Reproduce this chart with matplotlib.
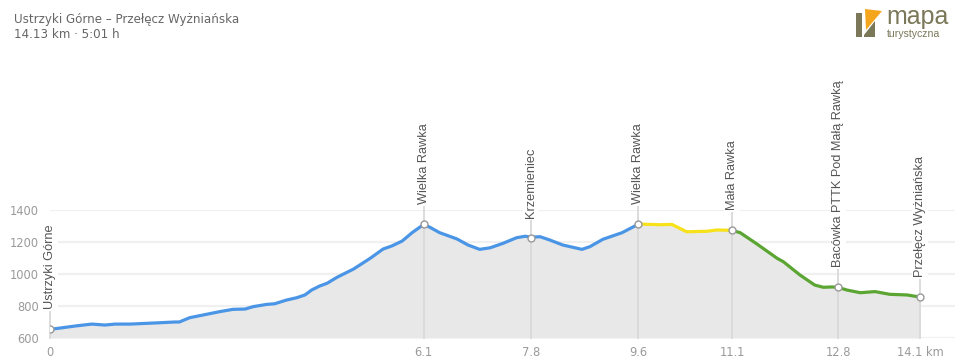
#!/usr/bin/env python3
"""Elevation profile: Ustrzyki Górne - Przełęcz Wyżniańska."""

import matplotlib
matplotlib.use("Agg")
import matplotlib.pyplot as plt
from matplotlib.patches import Polygon
import numpy as np

# profile (km, m a.s.l.)
dist_km = [0.00, 0.16, 0.41, 0.68, 0.89, 1.06, 1.30, 1.71, 2.03, 2.10, 2.27, 2.49,
           2.76, 2.97, 3.17, 3.30, 3.52, 3.65, 3.84, 4.01, 4.14, 4.25, 4.38, 4.50,
           4.66, 4.93, 5.20, 5.41, 5.55, 5.72, 5.88, 6.07, 6.17, 6.33, 6.61, 6.79,
           6.98, 7.15, 7.36, 7.58, 7.72, 7.81, 7.96, 8.12, 8.33, 8.64, 8.77, 8.98,
           9.29, 9.55, 9.58, 9.91, 10.10, 10.34, 10.67, 10.83, 11.08, 11.21, 11.48,
           11.81, 11.91, 12.18, 12.42, 12.56, 12.70, 12.80, 12.94, 13.16, 13.40,
           13.64, 13.92, 14.13]
elev_m = [654, 662, 675, 687, 681, 687, 687, 694, 700, 700, 727, 744,
          765, 779, 781, 796, 810, 814, 837, 852, 869, 900, 925, 942,
          979, 1031, 1098, 1156, 1175, 1206, 1258, 1310, 1292, 1258, 1219, 1181,
          1154, 1164, 1192, 1227, 1236, 1230, 1233, 1212, 1181, 1154, 1171, 1217,
          1258, 1310, 1312, 1308, 1310, 1264, 1267, 1275, 1273, 1258, 1188,
          1098, 1077, 994, 931, 917, 919, 917, 900, 883, 890,
          873, 869, 856]

# trail colour changes at these km marks
segment_breaks = [0.00, 9.55, 11.08, 14.13]
segment_colors = ["#4a95e6", "#f7e11a", "#5ba532"]

# waypoints
wp_names = ["Ustrzyki Górne", "Wielka Rawka", "Krzemieniec", "Wielka Rawka",
            "Mała Rawka", "Bacówka PTTK Pod Małą Rawką", "Przełęcz Wyżniańska"]
wp_km = [0.00, 6.07, 7.81, 9.55, 11.08, 12.80, 14.13]
wp_elev = [654, 1310, 1223, 1310, 1273, 917, 856]
wp_ticks = ["0", "6.1", "7.8", "9.6", "11.1", "12.8", "14.1 km"]

y_ticks = [600, 800, 1000, 1200, 1400]

W, H = 960, 362
fig = plt.figure(figsize=(W / 100, H / 100), dpi=100)

# axes in pixel terms: x 50..955, y 210..338
ax = fig.add_axes([50 / W, (H - 338) / H, 905 / W, 128 / H])
ax.set_xlim(0, 905 / 61.57)
ax.set_ylim(600, 1400)

ax.set_yticks(y_ticks)
ax.set_yticklabels([str(v) for v in y_ticks])
ax.grid(axis="y", color="#f0f0f0", linewidth=1.6, zorder=0)
ax.set_axisbelow(True)
for s in ax.spines.values():
    s.set_visible(False)
ax.tick_params(axis="both", length=0, colors="#9a9a9a", labelsize=8.3)
ax.tick_params(axis="y", pad=8)
ax.tick_params(axis="x", pad=6)
ax.set_xticks(wp_km)
ax.set_xticklabels(wp_ticks)

d = np.array(dist_km)
e = np.array(elev_m)
ax.fill_between(d, e, 600, color="#e8e8e8", linewidth=0, zorder=1)

for (a, b), col in zip(zip(segment_breaks[:-1], segment_breaks[1:]), segment_colors):
    m = (d >= a - 1e-9) & (d <= b + 1e-9)
    ax.plot(d[m], e[m], color=col, linewidth=2.3, solid_capstyle="round",
            solid_joinstyle="round", zorder=4)

# waypoint guides and labels
for name, km, el in zip(wp_names, wp_km, wp_elev):
    top = el + 20 / 0.16
    ax.plot([km, km], [600, top], color="#d9d9d9", linewidth=1.3, zorder=2,
            clip_on=False)
    ax.plot(km, el, "o", markersize=5, markerfacecolor="white",
            markeredgecolor="#999999", markeredgewidth=1.0, zorder=6)
    ax.annotate(name, xy=(km, el), xytext=(0, 14.5), textcoords="offset points",
                rotation=90, ha="center", va="bottom", fontsize=9.2,
                family="Liberation Sans", color="#555555", zorder=7,
                annotation_clip=False,
                bbox=dict(boxstyle="square,pad=0.15", facecolor="white",
                          edgecolor="none"))

# title block
fig.text(14 / W, 1 - 20 / H, "Ustrzyki Górne – Przełęcz Wyżniańska",
         fontsize=8.6, color="#666666", va="center", ha="left")
fig.text(14 / W, 1 - 35 / H, "14.13 km · 5:01 h",
         fontsize=8.6, color="#666666", va="center", ha="left")

# logo
def px(x, y):
    return (x / W, 1 - y / H)

olive = "#7a7858"
orange = "#f5a51c"
for pts, col in [
    ([(856, 13), (862, 13), (862, 37), (856, 37)], olive),
    ([(864, 35), (875, 21), (875, 37), (864, 37)], olive),
    ([(865, 9), (882, 11), (866, 30)], orange),
]:
    fig.patches.append(Polygon([px(x, y) for x, y in pts], closed=True,
                               transform=fig.transFigure, facecolor=col,
                               edgecolor="none"))
fig.text(886 / W, 1 - 24 / H, "mapa", fontsize=18, color=olive,
         va="baseline", ha="left", family="Liberation Sans")
fig.text(887 / W, 1 - 37 / H, "turystyczna", fontsize=7.6, color=olive,
         va="baseline", ha="left", family="Liberation Sans")

fig.savefig("out.png", dpi=100)
